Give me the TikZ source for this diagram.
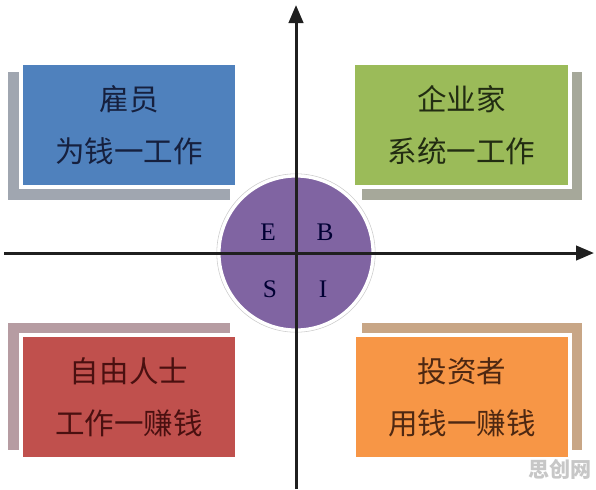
\documentclass[tikz,border=0pt]{standalone}
\usepackage{fontspec}
\setmainfont{Liberation Serif}
\newfontfamily\cjk{Noto Sans CJK SC}
\usepackage{xcolor}
\usetikzlibrary{arrows.meta}
\usetikzlibrary{calc}

\definecolor{employeeblue}{RGB}{79,129,189}
\definecolor{ownergreen}{RGB}{155,187,89}
\definecolor{selfred}{RGB}{192,80,77}
\definecolor{investorange}{RGB}{247,150,70}
\definecolor{ebsipurple}{RGB}{128,100,162}
\definecolor{employeeshadow}{RGB}{160,166,176}
\definecolor{ownershadow}{RGB}{166,168,154}
\definecolor{selfshadow}{RGB}{182,156,162}
\definecolor{investshadow}{RGB}{200,166,134}
\definecolor{employeetext}{RGB}{22,32,62}
\definecolor{ownertext}{RGB}{34,44,18}
\definecolor{selftext}{RGB}{74,16,16}
\definecolor{investtext}{RGB}{78,40,18}

\begin{document}
\begin{tikzpicture}[x=0.025cm,y=-0.025cm,
    quadbox/.style={draw=white,line width=0.1cm,minimum width=5.4cm,minimum height=3.1cm,
        align=center,font=\cjk\fontsize{21}{37}\selectfont},
    axisline/.style={line width=0.075cm,draw=black!88,
        -{Triangle[length=0.45cm,width=0.36cm]}},
    letter/.style={font=\fontsize{18}{18}\selectfont,text=black!80!blue}]
        \useasboundingbox (0,0) rectangle (596,489);
        % shadows behind the four boxes
        \fill[employeeshadow] (8,72) rectangle (230,200);
        \fill[ownershadow] (362,72) rectangle (582,200);
        \fill[selfshadow] (8,323) rectangle (230,450);
        \fill[investshadow] (362,323) rectangle (582,450);
        % the four quadrants
        \node[quadbox,fill=employeeblue,text=employeetext] (employee) at (129,125) {雇员\\为钱一工作};
        \node[quadbox,fill=ownergreen,text=ownertext] (owner) at (461.5,125) {企业家\\系统一工作};
        \node[quadbox,fill=selfred,text=selftext] (selfemp) at (129,397) {自由人士\\工作一赚钱};
        \node[quadbox,fill=investorange,text=investtext] (investor) at (462,397) {投资者\\用钱一赚钱};
        % circle in the middle
        \node[circle,fill=ebsipurple,draw=white,line width=0.08cm,minimum size=3.85cm] (ebsi) at (296,253) {};
        \draw[black!20,line width=0.4pt] (ebsi.center) circle (1.98cm);
        \node[letter] (e) at (268,232) {E};
        \node[letter] (b) at (325,232) {B};
        \node[letter] (s) at (270,289) {S};
        \node[letter] (i) at (323,289) {I};
        % axes
        \coordinate (ytail) at (296,489);
        \coordinate (ytip) at (296,5);
        \coordinate (xtail) at (4,253);
        \coordinate (xtip) at (594,253);
        \draw[axisline] (ytail) -- (ytip);
        \draw[axisline] (xtail) -- (xtip);
        \node[font=\cjk\bfseries\fontsize{15}{15}\selectfont,text=black!22] (mark) at (560,469) {思创网};
    \end{tikzpicture}
\end{document}
